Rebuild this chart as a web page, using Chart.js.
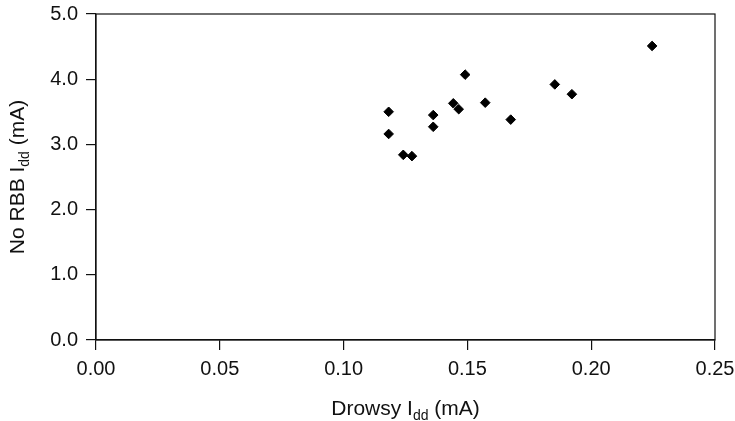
<!DOCTYPE html>
<html>
<head>
<meta charset="utf-8">
<script src="https://cdn.jsdelivr.net/npm/chart.js@4/dist/chart.umd.min.js"></script>
<style>
  html, body { margin: 0; padding: 0; background: #fff; }
  #chartCanvas { display: block; }
</style>
</head>
<body>
<canvas id="chartCanvas" width="735" height="421"></canvas>
<script>
// Drowsy Idd vs No RBB Idd
const drowsyIdd = [0.1182, 0.1182, 0.1241, 0.1276, 0.1362, 0.1362, 0.1443, 0.1465,
                   0.1491, 0.1572, 0.1675, 0.1853, 0.1922, 0.2246];
const noRbbIdd  = [3.50, 3.16, 2.84, 2.82, 3.45, 3.27, 3.63, 3.54,
                   4.07, 3.64, 3.38, 3.92, 3.77, 4.51];

const xTicks = [0.00, 0.05, 0.10, 0.15, 0.20, 0.25];
const yTicks = [0.0, 1.0, 2.0, 3.0, 4.0, 5.0];

const FONT = '"Liberation Sans", Arial, Helvetica, sans-serif';
const INK = '#111';

// Draw a label with a subscript part: [main, sub, rest]
function drawSubLabel(ctx, parts, x, y) {
  const big = '21px ' + FONT;
  const small = '14px ' + FONT;
  ctx.font = big;
  const w1 = ctx.measureText(parts[0]).width;
  const w3 = ctx.measureText(parts[2]).width;
  ctx.font = small;
  const w2 = ctx.measureText(parts[1]).width;
  const start = x - (w1 + w2 + w3) / 2;
  ctx.textAlign = 'left';
  ctx.textBaseline = 'alphabetic';
  ctx.font = big;
  ctx.fillText(parts[0], start, y);
  ctx.font = small;
  ctx.fillText(parts[1], start + w1, y + 5);
  ctx.font = big;
  ctx.fillText(parts[2], start + w1 + w2, y);
}

const framePlugin = {
  id: 'frame',
  afterDraw(chart) {
    const { ctx, chartArea } = chart;
    ctx.save();
    ctx.strokeStyle = INK;
    ctx.lineWidth = 1.2;
    ctx.strokeRect(chartArea.left, chartArea.top,
                   chartArea.right - chartArea.left, chartArea.bottom - chartArea.top);
    ctx.fillStyle = INK;
    // x axis title
    drawSubLabel(ctx, ['Drowsy I', 'dd', ' (mA)'], (chartArea.left + chartArea.right) / 2, 415);
    // y axis title
    ctx.translate(24, (chartArea.top + chartArea.bottom) / 2);
    ctx.rotate(-Math.PI / 2);
    drawSubLabel(ctx, ['No RBB I', 'dd', ' (mA)'], 0, 0);
    ctx.restore();
  }
};

const ctx = document.getElementById('chartCanvas').getContext('2d');
const chart = new Chart(ctx, {
  type: 'scatter',
  data: {
    datasets: [{
      data: drowsyIdd.map((x, i) => ({ x: x, y: noRbbIdd[i] })),
      pointStyle: 'rectRot',
      pointRadius: 4.8,
      backgroundColor: '#000',
      borderColor: '#000',
      borderWidth: 1
    }]
  },
  options: {
    responsive: false,
    animation: false,
    layout: { padding: { left: 0, right: 20, top: 14, bottom: 0 } },
    plugins: {
      legend: { display: false },
      tooltip: { enabled: false }
    },
    scales: {
      x: {
        type: 'linear',
        min: xTicks[0],
        max: xTicks[xTicks.length - 1],
        afterFit: s => { s.height = 81; s.paddingLeft = 0; s.paddingRight = 0; },
        afterBuildTicks: s => { s.ticks = xTicks.map(v => ({ value: v })); },
        ticks: {
          callback: v => v.toFixed(2),
          color: INK,
          font: { family: FONT, size: 20 },
          padding: 7,
          maxRotation: 0
        },
        grid: { drawOnChartArea: false, drawTicks: true, tickLength: 10, color: INK, lineWidth: 1.2 },
        border: { display: true, color: INK, width: 1.2 }
      },
      y: {
        type: 'linear',
        min: yTicks[0],
        max: yTicks[yTicks.length - 1],
        afterFit: s => { s.width = 96; s.paddingTop = 0; s.paddingBottom = 0; },
        afterBuildTicks: s => { s.ticks = yTicks.map(v => ({ value: v })); },
        ticks: {
          callback: v => v.toFixed(1),
          color: INK,
          font: { family: FONT, size: 20 },
          padding: 8
        },
        grid: { drawOnChartArea: false, drawTicks: true, tickLength: 10, color: INK, lineWidth: 1.2 },
        border: { display: true, color: INK, width: 1.2 }
      }
    }
  },
  plugins: [framePlugin]
});
</script>
</body>
</html>
